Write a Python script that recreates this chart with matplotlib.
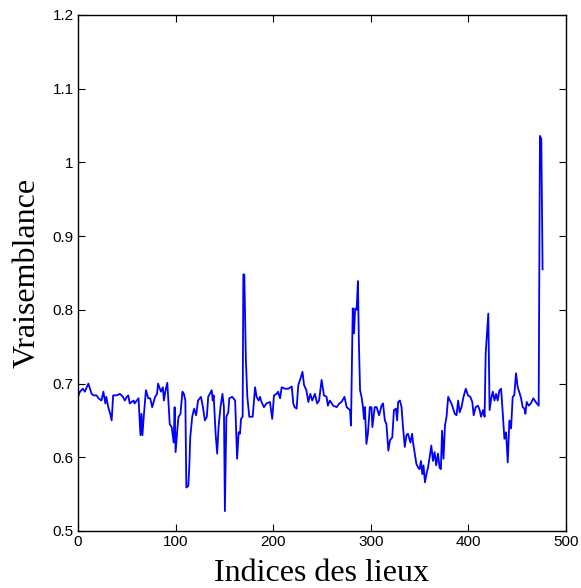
import matplotlib
matplotlib.use('Agg')
import matplotlib.pyplot as plt
from matplotlib.ticker import FuncFormatter

# Indices des lieux / vraisemblance
idx = [0, 2, 5, 7, 10.6, 14, 16, 19, 21, 24, 26, 28, 29, 31, 33, 34.5, 36, 39.6, 43, 46,
       48, 50, 51.5, 53, 57, 58, 62, 64, 65, 66, 67.6, 69.6, 72, 74, 76, 79, 81, 82, 85, 87,
       88, 90, 91.5, 94, 96, 98, 99, 100, 102, 103, 105, 107, 108.5, 110, 111, 113, 114, 115, 117, 119,
       121, 123, 126, 128, 130, 132, 133.4, 135, 137, 138, 139, 141, 142.6, 144, 146, 148, 149.5, 150.5, 152, 154,
       155, 158, 161, 161.9, 163, 164.6, 166, 167, 168.7, 169.4, 170.4, 172, 173.5, 175.5, 179, 181.4, 183, 185, 186.5, 188,
       190.5, 193, 196.7, 199, 200.8, 203.5, 205, 207, 208.7, 212, 215.5, 219, 220.6, 222, 224, 225.7, 228, 230, 231.6, 234,
       236, 238, 240, 242.7, 245, 247, 249.6, 252, 254.7, 256, 258, 261.5, 265, 267.7, 270, 273, 275.3, 277, 278.7, 279.7,
       281.5, 282.8, 284, 285.5, 286.8, 287.8, 289, 290.5, 292, 293, 294, 295.5, 297, 299, 300.7, 301.6, 304, 306, 308.5, 311,
       312.5, 314.4, 316, 318, 319.6, 322, 323.7, 325.7, 327, 328, 329.8, 331.5, 333, 334.8, 336.5, 338, 340.6, 342.3, 343.3, 345,
       346.7, 348.5, 350, 351.4, 352.8, 354, 355.5, 357, 358.6, 360.3, 362, 363.7, 365.4, 367, 368.8, 370.5, 371.8, 373, 374.5, 376,
       377.6, 379.3, 381, 382.6, 384.4, 386, 387.8, 389.5, 391, 392.9, 395, 397.3, 399.6, 402, 404, 405.4, 407.4, 409.8, 411.5, 413,
       415, 416.6, 417.7, 419, 420.4, 421.7, 423.4, 425, 426.7, 428.4, 430, 431.8, 433.5, 435, 436.9, 438.6, 440.3, 442, 443.7, 445.4,
       447, 448.8, 450.5, 452, 454, 455.6, 457.4, 458.4, 459.7, 461.8, 464, 466.5, 469, 472, 473.3, 474.7, 476]
vals = [0.682, 0.689, 0.693, 0.689, 0.700, 0.686, 0.684, 0.684, 0.680, 0.677, 0.689, 0.673, 0.682, 0.668, 0.659, 0.650, 0.684, 0.684, 0.686, 0.682,
        0.677, 0.682, 0.684, 0.673, 0.677, 0.673, 0.680, 0.630, 0.659, 0.630, 0.659, 0.691, 0.680, 0.680, 0.668, 0.682, 0.686, 0.700, 0.689, 0.695,
        0.677, 0.693, 0.701, 0.645, 0.641, 0.620, 0.668, 0.607, 0.641, 0.655, 0.659, 0.689, 0.686, 0.677, 0.559, 0.561, 0.586, 0.627, 0.655, 0.666,
        0.657, 0.677, 0.682, 0.668, 0.650, 0.655, 0.682, 0.686, 0.691, 0.677, 0.684, 0.632, 0.605, 0.641, 0.668, 0.686, 0.668, 0.527, 0.655, 0.661,
        0.680, 0.682, 0.677, 0.641, 0.598, 0.634, 0.632, 0.652, 0.655, 0.848, 0.848, 0.732, 0.682, 0.655, 0.655, 0.695, 0.682, 0.677, 0.682, 0.675,
        0.668, 0.673, 0.675, 0.652, 0.684, 0.686, 0.689, 0.680, 0.695, 0.693, 0.693, 0.696, 0.673, 0.668, 0.666, 0.698, 0.707, 0.716, 0.698, 0.691,
        0.675, 0.686, 0.677, 0.686, 0.673, 0.677, 0.705, 0.684, 0.682, 0.670, 0.677, 0.670, 0.668, 0.673, 0.675, 0.682, 0.668, 0.666, 0.664, 0.643,
        0.802, 0.768, 0.802, 0.800, 0.839, 0.755, 0.691, 0.682, 0.668, 0.652, 0.668, 0.618, 0.632, 0.668, 0.668, 0.641, 0.668, 0.668, 0.657, 0.670,
        0.673, 0.650, 0.645, 0.609, 0.623, 0.627, 0.664, 0.666, 0.650, 0.675, 0.677, 0.668, 0.641, 0.614, 0.630, 0.632, 0.620, 0.632, 0.620, 0.605,
        0.591, 0.586, 0.584, 0.595, 0.577, 0.589, 0.566, 0.577, 0.586, 0.600, 0.616, 0.595, 0.607, 0.589, 0.605, 0.586, 0.584, 0.636, 0.598, 0.643,
        0.655, 0.682, 0.677, 0.673, 0.666, 0.659, 0.657, 0.677, 0.661, 0.668, 0.682, 0.693, 0.684, 0.682, 0.675, 0.657, 0.668, 0.670, 0.664, 0.655,
        0.664, 0.655, 0.741, 0.768, 0.795, 0.664, 0.680, 0.689, 0.677, 0.686, 0.677, 0.691, 0.693, 0.664, 0.625, 0.634, 0.593, 0.650, 0.639, 0.682,
        0.684, 0.714, 0.695, 0.689, 0.680, 0.668, 0.666, 0.659, 0.675, 0.670, 0.673, 0.680, 0.675, 0.670, 1.036, 1.032, 0.855]

fig = plt.figure(figsize=(5.81, 5.88), dpi=100)
ax = fig.add_axes([78 / 581, 57 / 588, 488 / 581, 516 / 588])

ax.plot(idx, vals, color='#0000ff', linewidth=1.3)

ax.set_xlim(0, 500)
ax.set_ylim(0.5, 1.2)
ax.set_xticks([0, 100, 200, 300, 400, 500])
ax.set_yticks([0.5, 0.6, 0.7, 0.8, 0.9, 1.0, 1.1, 1.2])
ax.yaxis.set_major_formatter(FuncFormatter(lambda v, p: '%g' % round(v, 2)))

ax.tick_params(direction='in', length=5, width=0.8, top=True, right=True,
               labelsize=11, colors='black', pad=3)
for lab in ax.get_xticklabels() + ax.get_yticklabels():
    lab.set_fontfamily('Liberation Sans')
for s in ax.spines.values():
    s.set_linewidth(1.0)
    s.set_color('black')

ax.set_xlabel('Indices des lieux', fontfamily='Liberation Serif', fontsize=23, labelpad=7)
ax.set_ylabel('Vraisemblance', fontfamily='Liberation Serif', fontsize=23, labelpad=8)

fig.savefig('out.png', dpi=100)
